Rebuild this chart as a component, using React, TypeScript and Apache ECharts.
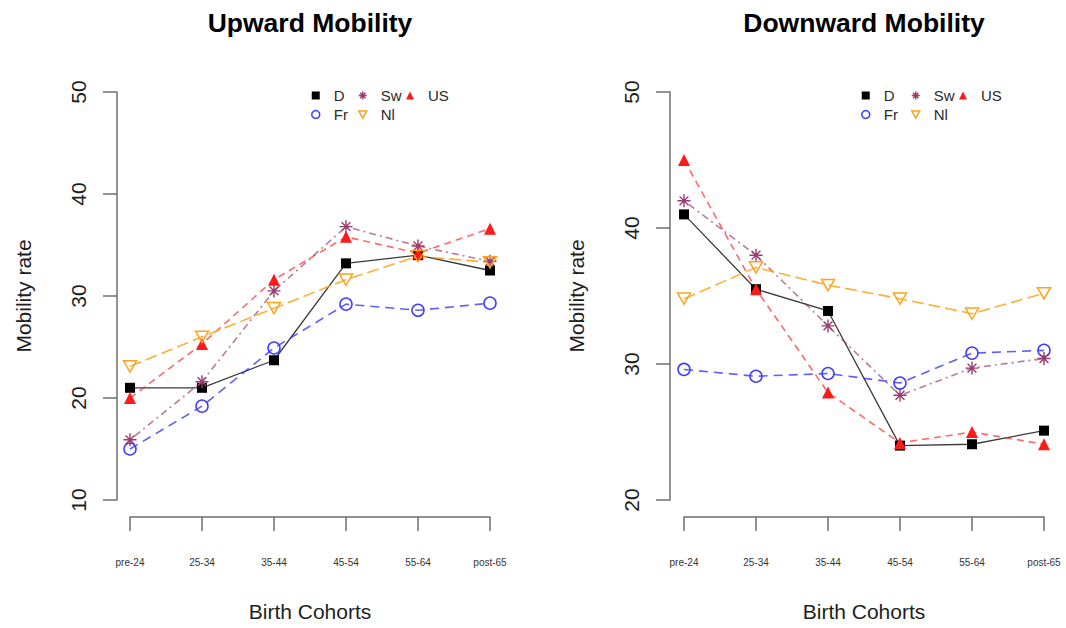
import React, { useEffect, useRef } from "react";
import * as echarts from "echarts";

const cohorts = ["pre-24", "25-34", "35-44", "45-54", "55-64", "post-65"];
const seriesNames = ["D", "Fr", "Sw", "US", "Nl"];

// Upward mobility
const upD = [21.0, 21.0, 23.7, 33.2, 34.0, 32.5];
const upFr = [15.0, 19.2, 24.9, 29.2, 28.6, 29.3];
const upSw = [15.9, 21.6, 30.5, 36.8, 34.9, 33.4];
const upUS = [20.0, 25.3, 31.6, 35.8, 34.2, 36.6];
const upNl = [23.1, 26.0, 28.8, 31.6, 33.9, 33.3];

// Downward mobility
const dnD = [41.0, 35.5, 33.9, 24.0, 24.1, 25.1];
const dnFr = [29.6, 29.1, 29.3, 28.6, 30.8, 31.0];
const dnSw = [42.0, 38.0, 32.8, 27.7, 29.7, 30.4];
const dnUS = [45.0, 35.5, 27.9, 24.2, 25.0, 24.1];
const dnNl = [34.8, 37.1, 35.8, 34.8, 33.7, 35.2];

const upTicks = [10, 20, 30, 40, 50];
const dnTicks = [20, 30, 40, 50];

const FONT = "'Liberation Sans', Arial, Helvetica, sans-serif";
const AXIS = "#6f6f6f";
const TXT = "#1e1e1e";

const STAR = "path://M5,0L5,10M0,5L10,5M1.6,1.6L8.4,8.4M1.6,8.4L8.4,1.6";
const INVTRI = "path://M0,0L10,0L5,8.66Z";

const styles: Record<string, any> = {
  D: {
    symbol: "rect",
    symbolSize: 10,
    itemStyle: { color: "#000000", borderWidth: 0 },
    lineStyle: { color: "#3a3a3a", width: 1.3, type: "solid" },
  },
  Fr: {
    symbol: "circle",
    symbolSize: 12,
    itemStyle: { color: "rgba(0,0,0,0)", borderColor: "#3d3dff", borderWidth: 1.5 },
    lineStyle: { color: "rgba(40,40,255,0.75)", width: 1.6, type: [9, 6] },
  },
  Sw: {
    symbol: STAR,
    symbolSize: 13,
    itemStyle: { color: "rgba(0,0,0,0)", borderColor: "#9a3c6e", borderWidth: 1.4 },
    lineStyle: { color: "rgba(150,50,105,0.65)", width: 1.6, type: [2, 4, 7, 4] },
  },
  US: {
    symbol: "triangle",
    symbolSize: 12,
    itemStyle: { color: "#ff1a1a", borderWidth: 0 },
    lineStyle: { color: "rgba(255,40,40,0.7)", width: 1.6, type: [7, 5] },
  },
  Nl: {
    symbol: INVTRI,
    symbolSize: 13,
    itemStyle: { color: "rgba(0,0,0,0)", borderColor: "#ffa21a", borderWidth: 1.5 },
    lineStyle: { color: "rgba(255,160,20,0.85)", width: 1.6, type: [12, 5] },
  },
};

function makeSeries(idx: number, values: number[][]) {
  return seriesNames.map((name, k) => ({
    type: "line",
    name,
    xAxisIndex: idx,
    yAxisIndex: idx,
    data: values[k],
    symbolKeepAspect: true,
    ...styles[name],
  }));
}

function makeXAxis(idx: number) {
  return {
    gridIndex: idx,
    type: "category",
    data: cohorts,
    boundaryGap: false,
    offset: 17,
    axisLine: { show: true, lineStyle: { color: AXIS, width: 1.5 } },
    axisTick: { show: true, length: 14, lineStyle: { color: AXIS, width: 1.5 } },
    axisLabel: { fontSize: 10, margin: 40, interval: 0, color: "#333", fontFamily: FONT },
    splitLine: { show: false },
    name: "Birth Cohorts",
    nameLocation: "middle",
    nameGap: 84,
    nameTextStyle: { fontSize: 21, color: TXT, fontFamily: FONT },
  };
}

function makeYAxis(idx: number, ticks: number[], offset: number) {
  return {
    gridIndex: idx,
    type: "value",
    min: ticks[0],
    max: ticks[ticks.length - 1],
    interval: ticks[1] - ticks[0],
    offset,
    axisLine: { show: true, lineStyle: { color: AXIS, width: 1.5 } },
    axisTick: { show: true, length: 14, lineStyle: { color: AXIS, width: 1.5 } },
    axisLabel: { rotate: 90, margin: 28, fontSize: 21, color: TXT, fontFamily: FONT },
    splitLine: { show: false },
    name: "Mobility rate",
    nameLocation: "middle",
    nameGap: 83,
    nameRotate: 90,
    nameTextStyle: { fontSize: 21, color: TXT, fontFamily: FONT },
  };
}

const legendBase = {
  orient: "vertical",
  itemWidth: 8,
  itemHeight: 8,
  itemGap: 0,
  padding: 0,
  selectedMode: false,
  textStyle: { fontSize: 15, color: "#2a2a2a", lineHeight: 19, padding: [0, 0, 0, 9], fontFamily: FONT },
};

function legendItem(name: string, icon: string) {
  const s = styles[name];
  return {
    name,
    icon,
    itemStyle: {
      color: s.itemStyle.color,
      borderColor: s.itemStyle.borderColor || s.itemStyle.color,
      borderWidth: s.itemStyle.borderWidth,
    },
  };
}

function makeLegends(cols: number[], top: number) {
  return [
    { ...legendBase, left: cols[0], top, data: [legendItem("D", "rect"), legendItem("Fr", "circle")] },
    { ...legendBase, left: cols[1], top, data: [legendItem("Sw", STAR), legendItem("Nl", INVTRI)] },
    { ...legendBase, left: cols[2], top, data: [legendItem("US", "triangle")] },
  ];
}

export default function App() {
  const ref = useRef<HTMLDivElement>(null);
  useEffect(() => {
    document.body.style.margin = "0";
    const chart = echarts.init(ref.current!, null, { renderer: "svg", width: 1066, height: 628 });
    chart.setOption({
      animation: false,
      backgroundColor: "#ffffff",
      textStyle: { fontFamily: FONT },
      title: [
        {
          text: "Upward Mobility",
          left: 310,
          top: 9,
          textAlign: "center",
          padding: 0,
          textStyle: { fontSize: 26.5, fontWeight: "bold", color: "#000", fontFamily: FONT },
        },
        {
          text: "Downward Mobility",
          left: 864,
          top: 9,
          textAlign: "center",
          padding: 0,
          textStyle: { fontSize: 26.5, fontWeight: "bold", color: "#000", fontFamily: FONT },
        },
      ],
      legend: [...makeLegends([311, 358, 406], 86), ...makeLegends([861, 911, 959], 86)],
      grid: [
        { left: 130, width: 360, top: 92, height: 408, containLabel: false },
        { left: 684, width: 360, top: 92, height: 408, containLabel: false },
      ],
      xAxis: [makeXAxis(0), makeXAxis(1)],
      yAxis: [makeYAxis(0, upTicks, 13), makeYAxis(1, dnTicks, 14)],
      series: [
        ...makeSeries(0, [upD, upFr, upSw, upUS, upNl]),
        ...makeSeries(1, [dnD, dnFr, dnSw, dnUS, dnNl]),
      ],
    });
    return () => chart.dispose();
  }, []);
  return (
    <div
      ref={ref}
      style={{ position: "absolute", left: 0, top: 0, width: 1066, height: 628, background: "#fff" }}
    />
  );
}
